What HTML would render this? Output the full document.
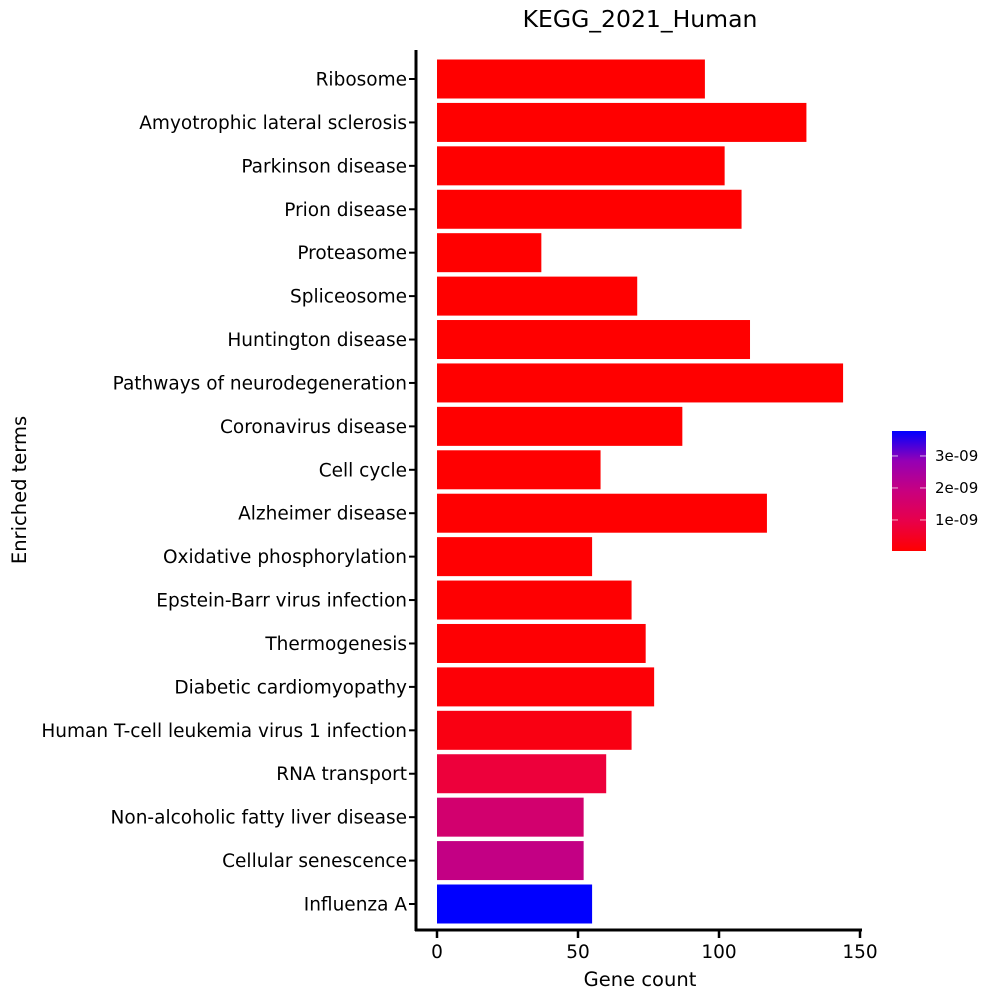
<!DOCTYPE html>
<html><head><meta charset="utf-8"><style>
body{margin:0;background:#fff}
text{font-family:"DejaVu Sans","Liberation Sans",sans-serif;fill:#000}
</style></head><body>
<svg id="chart" width="1000" height="1000" xmlns="http://www.w3.org/2000/svg">
<defs><linearGradient id="cb" x1="0" y1="1" x2="0" y2="0">
<stop offset="0" stop-color="#ff0000"/><stop offset="0.25" stop-color="#e8004a"/><stop offset="0.5" stop-color="#c8007f"/><stop offset="0.75" stop-color="#9500b5"/><stop offset="1" stop-color="#0000ff"/>
</linearGradient></defs>
<text x="640" y="27" font-size="23.5" text-anchor="middle">KEGG_2021_Human</text>
<g id="bars"></g>
<line x1="416" y1="50" x2="416" y2="931" stroke="#000" stroke-width="3"/>
<line x1="415" y1="930" x2="862" y2="930" stroke="#000" stroke-width="3"/>
<g id="xticks"></g>
<text x="640" y="986" font-size="19.5" text-anchor="middle">Gene count</text>
<text transform="translate(26,490) rotate(-90)" font-size="19.5" text-anchor="middle">Enriched terms</text>
<rect x="892" y="431" width="34" height="120" fill="url(#cb)"/>
<g id="cbticks"></g>
</svg>
<script>
const terms=["Ribosome","Amyotrophic lateral sclerosis","Parkinson disease","Prion disease","Proteasome","Spliceosome","Huntington disease","Pathways of neurodegeneration","Coronavirus disease","Cell cycle","Alzheimer disease","Oxidative phosphorylation","Epstein-Barr virus infection","Thermogenesis","Diabetic cardiomyopathy","Human T-cell leukemia virus 1 infection","RNA transport","Non-alcoholic fatty liver disease","Cellular senescence","Influenza A"];
const counts=[95,131,102,108,37,71,111,144,87,58,117,55,69,74,77,69,60,52,52,55];
const pvals=[0.03e-9,0.03e-9,0.03e-9,0.03e-9,0.03e-9,0.03e-9,0.03e-9,0.03e-9,0.03e-9,0.04e-9,0.04e-9,0.05e-9,0.06e-9,0.07e-9,0.1e-9,0.26e-9,0.78e-9,1.6e-9,2.0e-9,3.78e-9];
const xTicks=[0,50,100,150];
const cbTicks=[1e-9,2e-9,3e-9];
const cbTickLabels=["1e-09","2e-09","3e-09"];
const NS="http://www.w3.org/2000/svg";
const x=v=>437+v*(860-437)/150;
const yc=i=>79+i*(904-79)/19;
const pmin=0.03e-9,pmax=3.78e-9;
const cy=p=>551-(p-pmin)/(pmax-pmin)*120;
const stops=[[0,[255,0,0]],[0.25,[232,0,74]],[0.5,[200,0,127]],[0.75,[149,0,181]],[1,[0,0,255]]];
function col(p){let t=Math.max(0,Math.min(1,(p-pmin)/(pmax-pmin)));for(let k=1;k<stops.length;k++){if(t<=stops[k][0]){const a=stops[k-1],b=stops[k],f=(t-a[0])/(b[0]-a[0]);return "rgb("+a[1].map((c,j)=>Math.round(c+(b[1][j]-c)*f)).join(",")+")";}}return "rgb(0,0,255)";}
function mk(t,a,parent){const e=document.createElementNS(NS,t);for(const k in a)e.setAttribute(k,a[k]);parent.appendChild(e);return e;}
const bars=document.getElementById("bars");
terms.forEach((t,i)=>{
 const r=mk("rect",{x:x(0),y:yc(i)-19.5,width:x(counts[i])-x(0),height:39,fill:col(pvals[i])},bars);
 
 
 const tk=mk("line",{x1:409,x2:416,y1:yc(i),y2:yc(i),stroke:"#000","stroke-width":2},bars);
 
 
 const lb=mk("text",{x:407,y:yc(i)+6.5,"font-size":18.5,"text-anchor":"end"},bars);
 lb.textContent=t;
 
 
});
const xt=document.getElementById("xticks");
xTicks.forEach(v=>{
 const l=mk("line",{x1:x(v),x2:x(v),y1:930,y2:938,stroke:"#000","stroke-width":2.5},xt);
 
 
 const t=mk("text",{x:x(v),y:958,"font-size":18.5,"text-anchor":"middle"},xt);
 t.textContent=v;
 
 
});
const cb=document.getElementById("cbticks");
cbTicks.forEach((v,i)=>{
 const yy=cy(v);
 const l1=mk("line",{x1:892,x2:898,y1:yy,y2:yy,stroke:"#fff","stroke-width":1,opacity:0.7},cb);
 
 
 const l2=mk("line",{x1:920,x2:926,y1:yy,y2:yy,stroke:"#fff","stroke-width":1,opacity:0.7},cb);
 
 
 const t=mk("text",{x:935,y:yy+5,"font-size":15,},cb);
 t.textContent=cbTickLabels[i];
 
 
});
</script>
</body></html>
